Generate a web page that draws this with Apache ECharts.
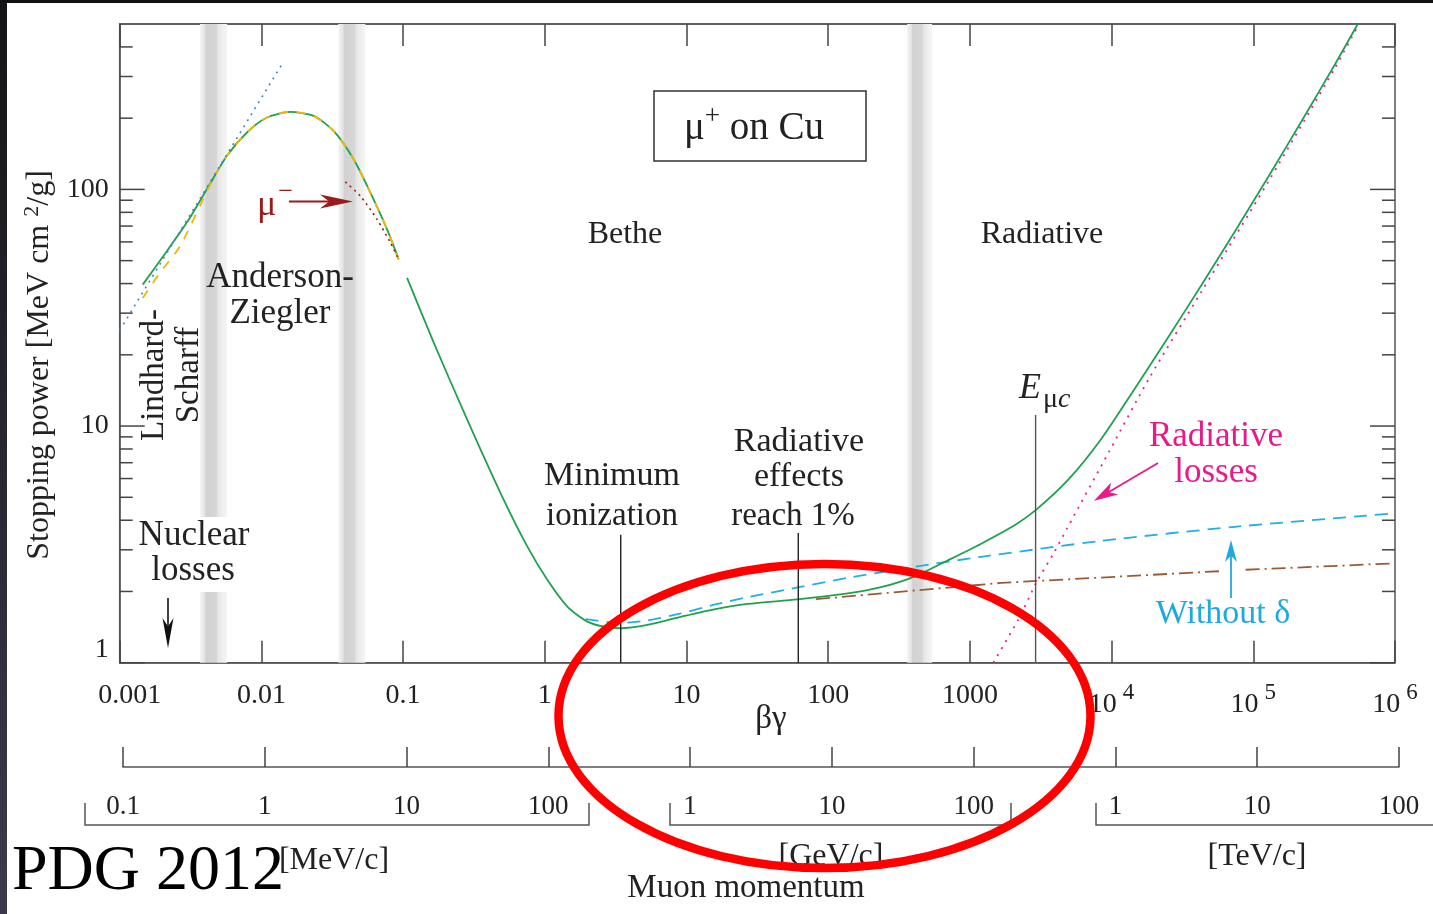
<!DOCTYPE html>
<html>
<head>
<meta charset="utf-8">
<script src="https://cdn.jsdelivr.net/npm/echarts@6/dist/echarts.min.js"></script>
<style>
html,body{margin:0;padding:0;background:#fff;}
#chart{width:1433px;height:914px;}
</style>
</head>
<body>
<div id="chart"></div>
<script>
// Stopping power of positive muons in copper as a function of βγ
const FONT = 'Liberation Serif';
const INK = '#222';

// βγ axis decades and labels (base, exponent)
const bgDecades = [0.001, 0.01, 0.1, 1, 10, 100, 1000, 1e4, 1e5, 1e6];
const bgLabels = [['0.001',''],['0.01',''],['0.1',''],['1',''],['10',''],['100',''],['1000',''],['10','4'],['10','5'],['10','6']];

// Stopping power axis ticks [MeV cm²/g]
const spMajor = [1, 10, 100];
const spMinor = [2,3,4,5,6,7,8,9,20,30,40,50,60,70,80,90,200,300,400];

// Muon momentum axis, in MeV/c, labelled per unit block
const pDecades = [0.1, 1, 10, 100, 1e3, 1e4, 1e5, 1e6, 1e7, 1e8];
const pLabels = ['0.1','1','10','100','1','10','100','1','10','100'];

// Anderson–Ziegler region (μ+), [βγ, stopping power]
const andersonZiegler = [[0.001454,39.6],[0.002032,52.3],[0.002975,72.4],[0.00412,100.1],[0.0057,138.4],[0.0079,174],[0.01094,201.3],[0.01598,212.6],[0.02333,204.5],[0.03232,176.7],[0.04477,134.1],[0.05875,96.9],[0.07709,67.8],[0.0931,50.6]];
// Alternative low-energy parametrisation (dashed)
const andersonZieglerAlt = [[0.001454,34.8],[0.001927,44.5],[0.002667,57.6],[0.00456,110.8],[0.0057,138.4],[0.0079,174],[0.01094,201.3],[0.01598,212.6],[0.02333,204.5],[0.03232,176.7],[0.04477,134.1],[0.05875,96.9],[0.07709,67.8],[0.0931,50.6]];
// Lindhard–Scharff (∝ βγ)
const lindhardScharff = [[0.001,25.4],[0.0143,346]];
// μ− (Barkas effect)
const muMinus = [[0.0391,107.5],[0.0499,93.8],[0.0655,74.7],[0.0813,59.6],[0.0931,50.6]];
// Bethe + radiative total
const total = [[0.1067,42.3],[0.1645,22.5],[0.2834,10.64],[0.4871,5.21],[0.752,3.10],[1.042,2.239],[1.442,1.726],[1.997,1.491],[2.617,1.420],[3.434,1.398],[5.30,1.444],[9.11,1.562],[15.67,1.681],[26.98,1.771],[60.9,1.851],[137.3,1.962],[236.1,2.085],[406,2.312],[698.9,2.707],[1202,3.184],[2067,3.808],[2942,4.434],[4927,5.918],[8472,8.84],[14565,14.39],[25080,23.72],[43110,39.48],[74130,66.44],[127700,113.2],[219500,194.5],[377400,338.1],[546000,500]];
// Ionization without density effect
const withoutDelta = [[1.942,1.527],[3.434,1.472],[5.30,1.509],[9.11,1.615],[15.67,1.758],[26.98,1.890],[60.9,2.081],[137.3,2.283],[406,2.541],[1202,2.802],[8472,3.273],[74130,3.752],[1000000,4.28]];
// Ionization losses at high energy (two pieces around the arrow)
const ionizationA = [[82,1.855],[1664,2.174],[57800,2.436]];
const ionizationB = [[88250,2.47],[1000000,2.63]];
// Radiative losses
const radiative = [[1461,1.0],[2194,1.52],[2970,2.2],[3963,2.95],[4855,3.7],[9600,7.8],[18500,16],[43110,37],[127700,108],[377400,327],[546000,490]];
// Vertical markers: [βγ, top]
const markers = [[3.434,3.47],[61.5,3.53],[2908,11.14]];
// Regime boundaries (shaded bands)
const bands = [[0.00369,0.00573],[0.0349,0.0542],[360.6,541.4]];

const chart = echarts.init(document.getElementById('chart'), null, {renderer:'canvas'});

function curve(data, color, width, dash, z, smooth) {
  return {
    type:'line', xAxisIndex:0, yAxisIndex:0, data: data, showSymbol:false, symbol:'none',
    smooth: smooth === undefined ? 0.25 : smooth, z: z || 3, silent:true, clip:true,
    lineStyle:{color: color, width: width, type: dash || 'solid', cap:'butt'}
  };
}

const bandGradient = () => new echarts.graphic.LinearGradient(0,0,1,0,[
  {offset:0, color:'#f4f4f4'},{offset:0.17,color:'#e4e4e4'},{offset:0.22,color:'#d2d2d2'},
  {offset:0.6,color:'#d6d6d6'},{offset:0.66,color:'#e6e6e6'},{offset:1,color:'#f6f6f6'}]);

const series = [];
const low = curve(andersonZiegler, '#1fa150', 1.8, 'solid', 3);
low.markArea = {
  silent:true,
  itemStyle:{color: bandGradient(), opacity:1, borderWidth:0},
  data: bands.map(b => [{xAxis:b[0]},{xAxis:b[1]}])
};
series.push(low);
series.push(curve(andersonZieglerAlt, '#f2b705', 1.8, [9,9], 4));
series.push(curve(lindhardScharff, '#3f86c6', 1.6, [2,5], 4, false));
series.push(curve(muMinus, '#a01a1a', 1.6, [2,4], 4));
series.push(curve(total, '#1fa150', 1.8, 'solid', 5));
series.push(curve(withoutDelta, '#22aee6', 1.8, [13,8], 4));
series.push(curve(ionizationA, '#9b5a36', 1.8, [14,5,2,5], 4, false));
series.push(curve(ionizationB, '#9b5a36', 1.8, [14,5,2,5], 4, false));
series.push(curve(radiative, '#ee1c8e', 1.8, [2,6], 4));
markers.forEach((m, i) => {
  series.push(curve([[m[0],1],[m[0],m[1]]], i === 2 ? '#555' : '#222', 1.4, 'solid', 6, false));
});
// Left/right ticks of the stopping-power axis
series.push({
  type:'custom', xAxisIndex:0, yAxisIndex:0, silent:true, z:6, clip:false,
  data: spMajor.map(v => [0.001, v, 1]).concat(spMinor.map(v => [0.001, v, 0])),
  renderItem: function (params, api) {
    const v = api.value(1), major = api.value(2);
    const pl = api.coord([0.001, v]), pr = api.coord([1e6, v]);
    const len = major ? 25 : 13;
    const st = {stroke:'#444', lineWidth:1.5};
    return {type:'group', children:[
      {type:'line', shape:{x1:pl[0], y1:pl[1], x2:pl[0]+len, y2:pl[1]}, style:st},
      {type:'line', shape:{x1:pr[0]-len, y1:pr[1], x2:pr[0], y2:pr[1]}, style:st}
    ]};
  }
});

function decadeIndex(list, v) {
  return list.findIndex(d => Math.abs(Math.log10(v) - Math.log10(d)) < 1e-6);
}

// ---- annotation helpers ----
function txt(x, y, text, size, opts) {
  opts = opts || {};
  return {
    type:'text', x:x, y:y, z: opts.z || 20, rotation: opts.rotation || 0, silent:true,
    style:{
      text:text, fill: opts.color || INK, fontFamily: FONT, fontSize: size,
      fontStyle: opts.italic ? 'italic' : 'normal',
      align: opts.align || 'center', verticalAlign: opts.valign || 'middle',
      lineHeight: opts.lineHeight, rich: opts.rich
    }
  };
}
function arrow(x1, y1, x2, y2, color, headLen, headW, lw) {
  const dx = x2-x1, dy = y2-y1, L = Math.hypot(dx,dy), ux = dx/L, uy = dy/L;
  const bx = x2-ux*headLen, by = y2-uy*headLen, nx = -uy, ny = ux;
  const kx = x2-ux*headLen*0.72, ky = y2-uy*headLen*0.72;
  return [
    {type:'line', z:20, silent:true, shape:{x1:x1,y1:y1,x2:kx,y2:ky}, style:{stroke:color, lineWidth:lw}},
    {type:'polygon', z:20, silent:true, shape:{points:[[x2,y2],[bx+nx*headW/2,by+ny*headW/2],[kx,ky],[bx-nx*headW/2,by-ny*headW/2]]}, style:{fill:color}}
  ];
}
function bracket(pts) {
  return {type:'polyline', z:20, silent:true, shape:{points:pts}, style:{stroke:'#555', lineWidth:1.5, fill:null}};
}

const MAGENTA = '#e8198b', CYAN = '#1ea9e1', DARKRED = '#9b1b1b';

const elements = [
  // white patch behind the nuclear-losses note
  {type:'rect', z:15, silent:true, shape:{x:136, y:517, width:116, height:75}, style:{fill:'#fff'}},
  txt(40, 365, '{a|Stopping power [MeV cm }{s|2}{a|/g]}', 32, {rotation:Math.PI/2, rich:{
    a:{fontFamily:FONT, fontSize:32, fill:INK},
    s:{fontFamily:FONT, fontSize:22, fill:INK, padding:[0,0,16,0]}}}),
  txt(172, 375, 'Lindhard-\nScharff', 33, {rotation:Math.PI/2, lineHeight:35}),
  txt(280, 278, 'Anderson-', 35),
  txt(280, 314, 'Ziegler', 35),
  txt(194, 536, 'Nuclear', 35),
  txt(193, 571, 'losses', 35),
  txt(625, 235, 'Bethe', 32),
  txt(1042, 235, 'Radiative', 32),
  txt(612, 476, 'Minimum', 34),
  txt(612, 516, 'ionization', 33),
  txt(799, 442, 'Radiative', 34),
  txt(799, 477, 'effects', 34),
  txt(793, 516, 'reach 1%', 33),
  txt(1216, 437, 'Radiative', 35, {color:MAGENTA}),
  txt(1216, 473, 'losses', 35, {color:MAGENTA}),
  txt(1223, 614, 'Without δ', 34, {color:CYAN}),
  txt(1019, 389, '{e|E}{m|μ}{c|c}', 36, {align:'left', rich:{
    e:{fontFamily:FONT, fontSize:36, fontStyle:'italic', fill:INK},
    m:{fontFamily:FONT, fontSize:28, fill:INK, padding:[22,0,0,2]},
    c:{fontFamily:FONT, fontSize:28, fontStyle:'italic', fill:INK, padding:[22,0,0,0]}}}),
  txt(257, 206, '{m|μ}{s|−}', 36, {align:'left', rich:{
    m:{fontFamily:FONT, fontSize:36, fill:DARKRED},
    s:{fontFamily:FONT, fontSize:26, fill:DARKRED, padding:[0,0,28,2]}}}),
  // title box
  {type:'rect', z:20, silent:true, shape:{x:654, y:91, width:212, height:70}, style:{fill:'#fff', stroke:'#333', lineWidth:1.5}},
  txt(754, 129, '{a|μ}{p|+}{a| on Cu}', 39, {z:21, rich:{
    a:{fontFamily:FONT, fontSize:39, fill:INK},
    p:{fontFamily:FONT, fontSize:27, fill:INK, padding:[0,0,24,0]}}}),
  txt(771, 719, 'βγ', 33),
  // momentum unit brackets and labels
  bracket([[85,803],[85,825],[589,825],[589,803]]),
  bracket([[670,803],[670,825],[1011,825],[1011,803]]),
  bracket([[1096,803],[1096,825],[1440,825]]),
  txt(334, 861, '[MeV/c]', 32),
  txt(831, 857, '[GeV/c]', 32),
  txt(1257, 857, '[TeV/c]', 32),
  txt(746, 888, 'Muon momentum', 33),
  txt(12, 872, 'PDG 2012', 64, {align:'left', color:'#000'}),
  // highlight ring
  {type:'ellipse', z:100, silent:true, shape:{cx:824.5, cy:716, rx:266, ry:152}, style:{fill:null, stroke:'#ff0000', lineWidth:8.5}},
  // dark frame edges
  {type:'rect', z:200, silent:true, shape:{x:0, y:0, width:7, height:914}, style:{fill:new echarts.graphic.LinearGradient(0,0,0,1,[{offset:0,color:'#141418'},{offset:1,color:'#3a3a4c'}])}},
  {type:'rect', z:200, silent:true, shape:{x:0, y:0, width:1433, height:3}, style:{fill:'#111'}}
]
.concat(arrow(168, 598, 168, 648, '#111', 30, 11, 1.6))
.concat(arrow(289, 201.5, 353, 201.5, DARKRED, 33, 14, 1.8))
.concat(arrow(1158, 463, 1094, 500.7, MAGENTA, 24, 14, 1.8))
.concat(arrow(1231, 598, 1231, 540, CYAN, 22, 12, 1.8));

const axisLineStyle = {color:'#555', width:1.5};
const tickStyle = {color:'#444', width:1.5};

const option = {
  animation:false,
  backgroundColor:'#fff',
  grid:[
    {left:119.7, right:38, top:24, bottom:251.3, show:true, borderColor:'#555', borderWidth:1.5, backgroundColor:'transparent', outerBoundsMode:'none'},
    {left:123, right:34, top:740, height:27, show:false, outerBoundsMode:'none'}
  ],
  xAxis:[
    {type:'log', gridIndex:0, logBase:10, min:0.001, max:1e6, splitNumber:9, position:'bottom',
      axisLine:{show:true, lineStyle:axisLineStyle},
      axisTick:{show:true, inside:true, length:22, lineStyle:tickStyle},
      minorTick:{show:false}, splitLine:{show:false},
      axisLabel:{show:true, margin:19, color:INK, fontFamily:FONT, fontSize:28,
        formatter:function (v) {
          const i = decadeIndex(bgDecades, v);
          if (i < 0) return '';
          const b = bgLabels[i][0], e = bgLabels[i][1];
          if (i === 0) return '{first|' + b + '}';
          return e ? '{b|' + b + '}{e|' + e + '}' : b;
        },
        rich:{
          first:{fontFamily:FONT, fontSize:28, color:INK, padding:[0,0,0,20]},
          b:{fontFamily:FONT, fontSize:28, color:INK},
          e:{fontFamily:FONT, fontSize:23, color:INK, padding:[0,0,22,6]}
        }}},
    {type:'log', gridIndex:0, logBase:10, min:0.001, max:1e6, splitNumber:9, position:'top',
      axisLine:{show:true, lineStyle:axisLineStyle},
      axisTick:{show:true, inside:true, length:22, lineStyle:tickStyle},
      axisLabel:{show:false}, splitLine:{show:false}, minorTick:{show:false}},
    {type:'log', gridIndex:1, logBase:10, min:0.1, max:1e8, splitNumber:9, position:'bottom',
      axisLine:{show:true, lineStyle:axisLineStyle},
      axisTick:{show:true, inside:true, length:20, lineStyle:tickStyle},
      splitLine:{show:false}, minorTick:{show:false},
      axisLabel:{show:true, margin:26, color:INK, fontFamily:FONT, fontSize:27,
        formatter:function (v) {
          const i = decadeIndex(pDecades, v);
          return i < 0 ? '' : pLabels[i];
        }}}
  ],
  yAxis:[
    {type:'log', gridIndex:0, logBase:10, min:1, max:500, splitNumber:3,
      axisLine:{show:true, lineStyle:axisLineStyle},
      axisTick:{show:false}, splitLine:{show:false}, minorTick:{show:false},
      axisLabel:{show:true, margin:11, color:INK, fontFamily:FONT, fontSize:28,
        formatter:function (v) {
          const i = decadeIndex(spMajor, v);
          if (i < 0) return '';
          return i === 0 ? '{one|1}' : String(spMajor[i]);
        },
        rich:{one:{fontFamily:FONT, fontSize:28, color:INK, padding:[0,0,26,0]}}}},
    {type:'value', gridIndex:1, show:false, min:0, max:1}
  ],
  series: series,
  graphic:{elements: elements}
};
chart.setOption(option);
</script>
</body>
</html>
